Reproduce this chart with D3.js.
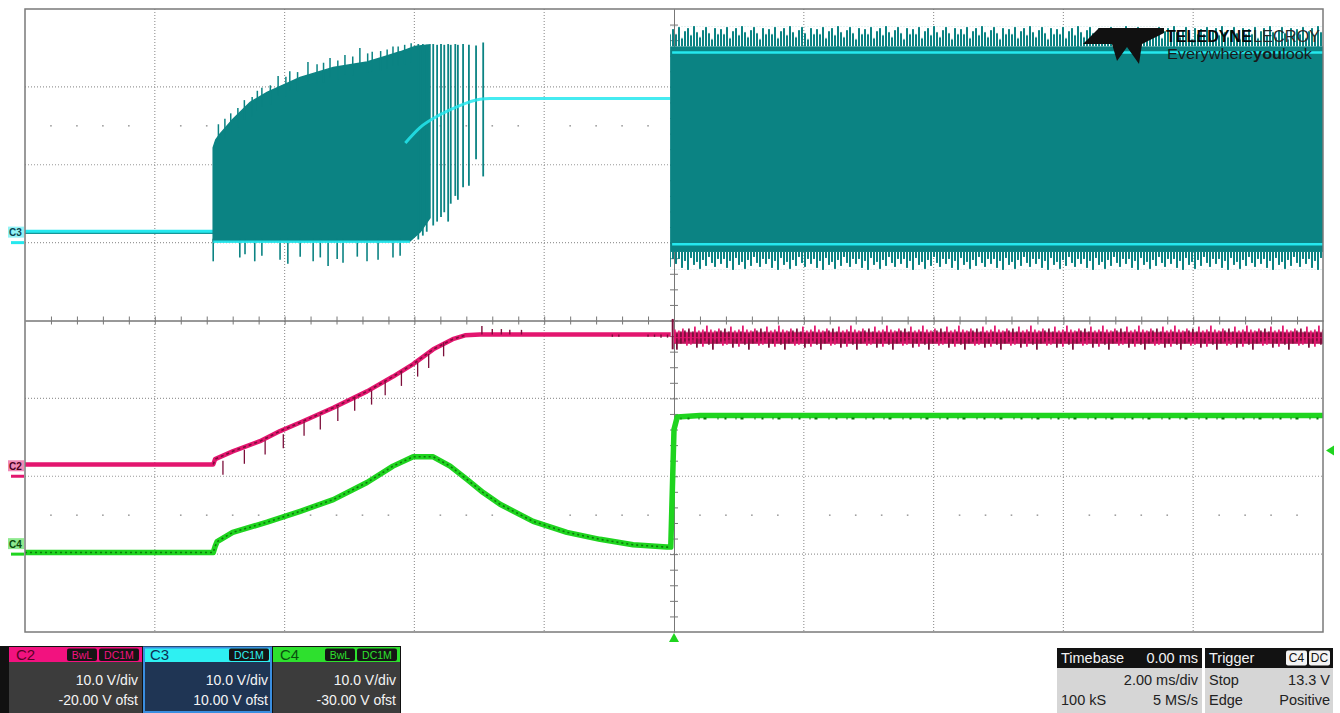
<!DOCTYPE html>
<html><head><meta charset="utf-8">
<script src="https://cdn.jsdelivr.net/npm/d3@7"></script>
<style>html,body{margin:0;padding:0;background:#fff;overflow:hidden}svg{display:block}</style>
</head><body>
<svg id="chart" width="1340" height="713"></svg>
<script>
// ---------------- DATA ----------------
const timeDomain = [-10, 10];            // ms (2.00 ms/div, 10 div)
const divDomain = [-4, 4];               // vertical divisions
const gridTimes = [-8, -6, -4, -2, 2, 4, 6, 8];
const gridDivs = [-3, -2, -1, 1, 2, 3];
const channelNames = ["C2", "C3", "C4"];
const voltsPerDiv = [10, 10, 10];
const offsets = [-20, 10, -30];          // V ofst
const triggerTime = 0;
const triggerLevel = 13.3;               // V on C4

// C2 (magenta)
const c2Time = [-10, -7.10, -7.07, -6.80, -6.38, -6.07, -5.76, -5.25, -4.73, -4.33, -4.02, -3.71, -3.41, -3.22, -2.99, -0.05];
const c2Volt = [1.5, 1.5, 2.2, 3.2, 4.5, 5.8, 6.9, 8.8, 10.9, 12.8, 14.4, 16.3, 17.6, 18.1, 18.2, 18.2];
const c2SpikeTime = [-2.96, -2.80, -2.66, -2.53, -2.35, -0.95, -0.85, -0.40, -0.30, -0.20, -0.10];
const c2SpikeVolt = [19.3, 18.9, 18.9, 18.8, 18.8, 17.9, 17.9, 17.9, 17.9, 17.8, 17.8];
const c2RampSpikeTime = [-6.95, -6.62, -6.30, -6.02, -5.70, -5.45, -5.18, -4.92, -4.66, -4.45, -4.20, -3.95, -3.78, -3.55];
const c2RampSpikeVolt = [1.6, 3.0, 4.2, 5.0, 6.6, 7.4, 8.5, 9.8, 10.6, 11.8, 13.0, 14.2, 15.3, 16.8];
const c2RunTime = [0, 10];
const c2RunLevel = 17.8;
const c2RunHigh = 19.6;
const c2RunLow = 16.0;

// C3 (teal / cyan)
const c3BaseTime = [-10, -7.10];
const c3BaseVolt = [1.4, 1.4];
const c3BurstTime = [-7.10, -7.06, -7.00, -6.80, -6.53, -6.27, -5.76, -5.25, -4.73, -4.45, -4.22, -3.99, -3.76];
const c3BurstTop = [12.2, 13.2, 13.9, 15.8, 18.0, 19.3, 21.2, 22.5, 23.2, 23.9, 24.5, 25.2, 25.4];
const c3BurstBottomTime = [-7.10, -4.07, -3.91, -3.76];
const c3BurstBottomVolt = [0.2, 0.2, 1.4, 3.2];
const c3DownSpikeTime = [-7.10, -6.69, -6.61, -6.46, -6.35, -6.07, -5.95, -5.76, -5.56, -5.45, -5.33, -5.19, -5.10, -4.88, -4.73, -4.56, -4.33, -4.22];
const c3DownSpikeVolt = [-2.4, -1.9, -1.5, -2.4, -1.7, -2.2, -2.7, -1.8, -2.4, -1.9, -3.0, -2.1, -2.6, -1.8, -2.4, -2.2, -1.9, -1.7];
const c3UpSpikeTime = [-7.02, -6.92, -6.83, -6.72, -6.62, -6.50, -6.42, -6.35, -6.22, -6.10, -5.98, -5.92, -5.80, -5.64, -5.50, -5.40, -5.30, -5.18, -5.07, -4.95, -4.84, -4.72, -4.65, -4.52, -4.42, -4.33, -4.25, -4.15, -4.05];
const c3UpSpikeVolt = [15.2, 15.9, 16.6, 17.3, 18.3, 18.7, 19.5, 19.9, 20.2, 21.4, 21.3, 22.0, 21.9, 23.2, 22.9, 23.1, 23.7, 23.4, 24.1, 23.9, 25.0, 24.3, 24.5, 24.6, 24.8, 25.2, 25.2, 25.4, 25.6];
const c3SparseTime = [-3.94, -3.87, -3.81, -3.71, -3.65, -3.59, -3.54, -3.48, -3.44, -3.37, -3.33, -3.25, -3.16, -3.05, -2.94];
const c3SparseTop = [25.5, 25.5, 25.4, 25.5, 25.4, 25.5, 25.4, 25.5, 25.4, 25.5, 25.4, 25.5, 25.4, 25.3, 25.7];
const c3SparseBottom = [0.4, 0.9, 1.4, 2.2, 2.7, 3.3, 3.9, 2.7, 5.0, 6.0, 5.5, 7.1, 7.3, 10.7, 8.5];
const c3LevelTime = [-4.14, -3.91, -3.61, -3.30, -2.99, -2.84, -0.06];
const c3LevelVolt = [12.8, 14.8, 16.4, 17.6, 18.4, 18.5, 18.5];
const c3LowTime = [-7.10, -4.07];
const c3LowVolt = [0.1, 0.1];
const c3RunTime = [-0.06, 10];
const c3RunSpikeTop = 27.8;
const c3RunTop = 25.2;
const c3RunHigh = 24.4;
const c3RunLow = -0.2;
const c3RunBottom = -1.2;
const c3RunSpikeBottom = -3.5;

// C4 (green)
const c4Time = [-10, -7.10, -7.07, -7.04, -6.80, -6.27, -5.76, -5.25, -4.73, -4.33, -4.02, -3.71, -3.45, -3.19, -2.94, -2.68, -2.17, -1.65, -1.14, -0.63, -0.11, -0.05, 0.00, 0.05, 0.40, 10];
const c4Volt = [0.2, 0.2, 1.0, 1.6, 2.8, 4.1, 5.5, 7.0, 9.2, 11.3, 12.5, 12.5, 11.3, 9.6, 7.9, 6.4, 4.2, 2.8, 1.9, 1.2, 0.9, 0.9, 16.0, 17.6, 17.8, 17.8];

// Info panels
const panelNames = ["C2", "C3", "C4"];
const panelVdiv = ["10.0 V/div", "10.0 V/div", "10.0 V/div"];
const panelOfst = ["-20.00 V ofst", "10.00 V ofst", "-30.00 V ofst"];
const panelTags = [["BwL", "DC1M"], ["DC1M"], ["BwL", "DC1M"]];
const timebaseLines = ["Timebase", "0.00 ms", "2.00 ms/div", "100 kS", "5 MS/s"];
const triggerLines = ["Trigger", "C4", "DC", "Stop", "13.3 V", "Edge", "Positive"];
const logoLines = ["TELEDYNE", "LECROY", "Everywhere", "you", "look"];

// ---------------- STYLE ----------------
const col = {
  c2: "#e3166f", c2dark: "#7c0e3a",
  teal: "#0b8383", cyan: "#25e8ee",
  c4: "#1fd41f", c4dark: "#0c7a0c",
  grid: "#999", frame: "#7a7a7a"
};
const FONT = "'Liberation Sans', Arial, sans-serif";

const svg = d3.select("#chart");
svg.append("rect").attr("width", 1340).attr("height", 713).attr("fill", "#fff");

const x = d3.scaleLinear().domain(timeDomain).range([25, 1323]);
const yDiv = d3.scaleLinear().domain(divDomain).range([632, 9]);
const yV = (ch, v) => yDiv((v + offsets[ch]) / voltsPerDiv[ch]);
const zip = (a, b) => a.map((d, i) => [d, b[i]]);
const lineFor = ch => d3.line().x(d => x(d[0])).y(d => yV(ch, d[1]));

const defs = svg.append("defs");
function comb(id, y0, h, w, step, lens, fromBottom, color) {
  const p = defs.append("pattern").attr("id", id).attr("patternUnits", "userSpaceOnUse")
    .attr("x", 0).attr("y", y0).attr("width", w).attr("height", h);
  lens.forEach((L, i) => {
    p.append("rect").attr("x", i * step).attr("width", step - 1)
      .attr("y", fromBottom ? h - L : 0).attr("height", L).attr("fill", color);
  });
}

// ---------------- GRID ----------------
const g = svg.append("g");
g.selectAll(".vg").data(gridTimes).join("line")
  .attr("x1", d => x(d)).attr("x2", d => x(d)).attr("y1", yDiv(4)).attr("y2", yDiv(-4))
  .attr("stroke", col.grid).attr("stroke-width", 1.2).attr("stroke-dasharray", "1,2");
g.selectAll(".hg").data(gridDivs).join("line")
  .attr("x1", x(-10)).attr("x2", x(10)).attr("y1", d => yDiv(d)).attr("y2", d => yDiv(d))
  .attr("stroke", col.grid).attr("stroke-width", 1.2).attr("stroke-dasharray", "1,2");
const dotTimes = d3.range(-24, 25).map(i => +(i * 0.4).toFixed(2)).filter(t => Math.abs(t % 2) > 1e-6 && Math.abs(t) < 10);
[2.5, -2.5].forEach(dv => {
  g.selectAll(null).data(dotTimes).join("rect")
    .attr("x", d => x(d) - 0.8).attr("y", yDiv(dv) - 0.8).attr("width", 1.6).attr("height", 1.6)
    .attr("fill", "#a0a0a0");
});
const tTicks = d3.range(-25, 26).map(i => i * 0.4).filter(t => Math.abs(t) < 10);
const dTicks = d3.range(-20, 21).map(i => i * 0.2).filter(d => Math.abs(d) < 4);
const axStyle = sel => { sel.selectAll("text").remove(); sel.selectAll("line").attr("stroke", "#777"); sel.select(".domain").attr("stroke", "#777"); };
g.append("g").attr("transform", `translate(0,${yDiv(0)})`)
  .call(d3.axisBottom(x).tickValues(tTicks).tickSize(4).tickSizeOuter(0).tickFormat("")).call(axStyle);
g.append("g").attr("transform", `translate(0,${yDiv(0)})`)
  .call(d3.axisTop(x).tickValues(tTicks).tickSize(4).tickSizeOuter(0).tickFormat("")).call(axStyle);
g.append("g").attr("transform", `translate(${x(0)},0)`)
  .call(d3.axisLeft(yDiv).tickValues(dTicks).tickSize(4).tickSizeOuter(0).tickFormat("")).call(axStyle);
g.append("g").attr("transform", `translate(${x(0)},0)`)
  .call(d3.axisRight(yDiv).tickValues(dTicks).tickSize(4).tickSizeOuter(0).tickFormat("")).call(axStyle);

// ---------------- C3 ----------------
const t3 = svg.append("g");
t3.append("path").attr("d", lineFor(1)(zip(c3BaseTime, c3BaseVolt)))
  .attr("fill", "none").attr("stroke", col.cyan).attr("stroke-width", 4);
t3.append("path").attr("d", lineFor(1)(zip(c3BaseTime, c3BaseVolt)))
  .attr("fill", "none").attr("stroke", col.teal).attr("stroke-width", 1).attr("transform", "translate(0,1.6)");
const burstPts = zip(c3BurstTime, c3BurstTop).concat(zip(c3BurstBottomTime, c3BurstBottomVolt).reverse());
t3.append("path").attr("d", lineFor(1)(burstPts) + "Z").attr("fill", col.teal).attr("stroke", col.teal).attr("stroke-width", 1.5);
t3.selectAll(null).data(zip(c3DownSpikeTime, c3DownSpikeVolt)).join("line")
  .attr("x1", d => x(d[0])).attr("x2", d => x(d[0])).attr("y1", yV(1, 0.5)).attr("y2", d => yV(1, d[1]))
  .attr("stroke", col.teal).attr("stroke-width", 1.6);
t3.selectAll(null).data(zip(c3UpSpikeTime, c3UpSpikeVolt)).join("line")
  .attr("x1", d => x(d[0])).attr("x2", d => x(d[0])).attr("y1", d => yV(1, d[1] - 2.5)).attr("y2", d => yV(1, d[1]))
  .attr("stroke", col.teal).attr("stroke-width", 1.5);
t3.selectAll(null).data(c3SparseTime.map((t, i) => [t, c3SparseTop[i], c3SparseBottom[i]])).join("line")
  .attr("x1", d => x(d[0])).attr("x2", d => x(d[0])).attr("y1", d => yV(1, d[1])).attr("y2", d => yV(1, d[2]))
  .attr("stroke", col.teal).attr("stroke-width", 1.8);
t3.append("path").attr("d", lineFor(1)(zip(c3LowTime, c3LowVolt)))
  .attr("fill", "none").attr("stroke", col.cyan).attr("stroke-width", 2.5).attr("opacity", 0.9);
t3.append("path").attr("d", d3.line().curve(d3.curveMonotoneX).x(d => x(d[0])).y(d => yV(1, d[1]))(zip(c3LevelTime, c3LevelVolt)))
  .attr("fill", "none").attr("stroke", col.cyan).attr("stroke-width", 3).attr("opacity", 0.85);
const rx0 = x(c3RunTime[0]), rx1 = x(c3RunTime[1]);
t3.append("rect").attr("x", rx0).attr("width", rx1 - rx0)
  .attr("y", yV(1, c3RunTop)).attr("height", yV(1, c3RunBottom) - yV(1, c3RunTop)).attr("fill", col.teal);
const topY0 = yV(1, c3RunSpikeTop), topH = yV(1, c3RunTop) - topY0;
comb("c3top", topY0, topH, 48, 3, [17, 12, 19, 8, 15, 18, 11, 20, 14, 9, 16, 19, 13, 7, 18, 12].map(v => v / 20 * topH), true, col.teal);
t3.append("rect").attr("x", rx0).attr("width", rx1 - rx0).attr("y", topY0).attr("height", topH + 0.5).attr("fill", "url(#c3top)");
const botY0 = yV(1, c3RunBottom), botH = yV(1, c3RunSpikeBottom) - botY0;
comb("c3bot", botY0, botH, 45, 3, [12, 7, 16, 9, 18, 6, 13, 10, 17, 8, 14, 5, 11, 15, 7].map(v => v / 18 * botH), false, col.teal);
t3.append("rect").attr("x", rx0).attr("width", rx1 - rx0).attr("y", botY0 - 0.5).attr("height", botH + 0.5).attr("fill", "url(#c3bot)");
t3.append("line").attr("x1", rx0 + 2).attr("x2", rx1).attr("y1", yV(1, c3RunHigh)).attr("y2", yV(1, c3RunHigh))
  .attr("stroke", col.cyan).attr("stroke-width", 2.5);
t3.append("line").attr("x1", rx0 + 2).attr("x2", rx1).attr("y1", yV(1, c3RunLow)).attr("y2", yV(1, c3RunLow))
  .attr("stroke", col.cyan).attr("stroke-width", 2.5);

// ---------------- C2 ----------------
const t2 = svg.append("g");
t2.append("path").attr("d", lineFor(0)(zip(c2Time, c2Volt)))
  .attr("fill", "none").attr("stroke", col.c2).attr("stroke-width", 4.5).attr("stroke-linejoin", "round");
t2.append("path").attr("d", lineFor(0)(zip(c2Time.slice(1), c2Volt.slice(1)).filter(d => d[0] < -3.2)))
  .attr("fill", "none").attr("stroke", col.c2dark).attr("stroke-width", 1.6).attr("stroke-dasharray", "3,3");
t2.selectAll(null).data(zip(c2RampSpikeTime, c2RampSpikeVolt)).join("line")
  .attr("x1", d => x(d[0])).attr("x2", d => x(d[0])).attr("y1", d => yV(0, d[1] - 1.4)).attr("y2", d => yV(0, d[1] + 0.4))
  .attr("stroke", col.c2dark).attr("stroke-width", 1.3);
t2.selectAll(null).data(zip(c2SpikeTime, c2SpikeVolt)).join("line")
  .attr("x1", d => x(d[0])).attr("x2", d => x(d[0])).attr("y1", yV(0, 18.2)).attr("y2", d => yV(0, d[1]))
  .attr("stroke", col.c2dark).attr("stroke-width", 1.4);
const c2y0 = yV(0, c2RunHigh), c2h = yV(0, c2RunLow) - c2y0;
const c2pat = defs.append("pattern").attr("id", "c2noise").attr("patternUnits", "userSpaceOnUse")
  .attr("x", 0).attr("y", c2y0).attr("width", 36).attr("height", c2h);
c2pat.append("rect").attr("x", 0).attr("width", 36).attr("y", c2h * 0.3).attr("height", c2h * 0.42).attr("fill", "#b8155a");
[[0, 7, 18], [2, 9, 22], [4, 5, 17], [6, 10, 21], [8, 8, 16], [10, 3, 19], [12, 9, 24], [14, 7, 15], [16, 10, 20],
 [18, 6, 23], [20, 8, 17], [22, 2, 18], [24, 9, 21], [26, 6, 19], [28, 10, 26], [30, 7, 16], [32, 8, 20], [34, 5, 18]]
  .forEach((m, i) => c2pat.append("rect").attr("x", m[0]).attr("width", 1.8)
    .attr("y", m[1] / 28 * c2h).attr("height", (m[2] - m[1]) / 28 * c2h)
    .attr("fill", i % 2 ? col.c2 : col.c2dark));
t2.append("rect").attr("x", x(c2RunTime[0])).attr("width", x(c2RunTime[1]) - x(c2RunTime[0]))
  .attr("y", c2y0).attr("height", c2h).attr("fill", "url(#c2noise)");
t2.append("line").attr("x1", x(0)).attr("x2", x(10)).attr("y1", yV(0, c2RunLevel)).attr("y2", yV(0, c2RunLevel))
  .attr("stroke", col.c2).attr("stroke-width", 1.2).attr("opacity", 0.8);
t2.append("line").attr("x1", x(-0.02)).attr("x2", x(-0.02)).attr("y1", yV(0, 20.2)).attr("y2", yV(0, 16.3))
  .attr("stroke", col.c2dark).attr("stroke-width", 2);

// ---------------- C4 ----------------
const t4 = svg.append("g");
t4.append("path").attr("d", lineFor(2)(zip(c4Time, c4Volt)))
  .attr("fill", "none").attr("stroke", col.c4).attr("stroke-width", 5.5).attr("stroke-linejoin", "round");
t4.append("path").attr("d", lineFor(2)(zip(c4Time, c4Volt).filter(d => d[0] <= -0.05)))
  .attr("fill", "none").attr("stroke", col.c4dark).attr("stroke-width", 1.6).attr("stroke-dasharray", "2,3");
t4.append("line").attr("x1", x(0.1)).attr("x2", x(10)).attr("y1", yV(2, c4Volt[c4Volt.length - 1]) + 3).attr("y2", yV(2, c4Volt[c4Volt.length - 1]) + 3)
  .attr("stroke", col.c4dark).attr("stroke-width", 2).attr("stroke-dasharray", "1,6,2,9,1,4,3,11");

// ---------------- ground markers & labels ----------------
const markCols = [col.c2, col.cyan, col.c4];
const labelText = ["#4a0020", "#0b4450", "#0a4a0a"];
channelNames.forEach((name, i) => {
  const gy = yV(i, 0);
  svg.append("line").attr("x1", 11).attr("x2", 24).attr("y1", gy).attr("y2", gy)
    .attr("stroke", markCols[i]).attr("stroke-width", 3);
  svg.append("rect").attr("x", 8).attr("y", gy - 16).attr("width", 16).attr("height", 11).attr("fill", markCols[i]).attr("opacity", 0.5);
  svg.append("text").attr("x", 9).attr("y", gy - 6.5).text(name)
    .attr("font-family", FONT).attr("font-size", 10).attr("font-weight", "bold").attr("fill", labelText[i]);
});

svg.append("rect").attr("x", 25).attr("y", 9).attr("width", 1298).attr("height", 623)
  .attr("fill", "none").attr("stroke", col.frame).attr("stroke-width", 1.5);

const trigY = yV(2, triggerLevel);
svg.append("path").attr("d", `M1326,${trigY} L1334,${trigY - 5} L1334,${trigY + 5} Z`).attr("fill", col.c4);
const trigX = x(triggerTime);
svg.append("path").attr("d", `M${trigX},633 L${trigX - 5},642 L${trigX + 5},642 Z`).attr("fill", col.c4);

// ---------------- logo ----------------
const lg = svg.append("g");
lg.append("path").attr("d", "M1083,44 L1099,28 L1164,28 L1164,33 L1142,44 L1139,64 L1127,47 L1117,61 L1112,44 Z").attr("fill", "#111");
lg.append("text").attr("x", 1166).attr("y", 42).text(logoLines[0])
  .attr("font-family", "'Liberation Sans Narrow', 'Liberation Sans', Arial, sans-serif").attr("font-weight", "bold")
  .attr("font-size", 17).attr("fill", "#0a0a0a").attr("textLength", 86).attr("lengthAdjust", "spacingAndGlyphs");
lg.append("text").attr("x", 1253).attr("y", 42).text(logoLines[1])
  .attr("font-family", "'Liberation Sans Narrow', 'Liberation Sans', Arial, sans-serif")
  .attr("font-size", 17).attr("fill", "#2a2a2a").attr("textLength", 67).attr("lengthAdjust", "spacingAndGlyphs");
const tl = lg.append("text").attr("x", 1167).attr("y", 59)
  .attr("font-family", "'Liberation Sans Narrow', 'Liberation Sans', Arial, sans-serif").attr("font-size", 15).attr("fill", "#1a1a1a")
  .attr("textLength", 145).attr("lengthAdjust", "spacingAndGlyphs");
tl.append("tspan").text(logoLines[2]);
tl.append("tspan").attr("font-weight", "bold").text(logoLines[3]);
tl.append("tspan").text(logoLines[4]);

// ---------------- info panels ----------------
const hdrCols = ["#f2127f", "#2ef0f2", "#2ee02e"];
const hdrText = ["#5a0025", "#0d2f55", "#0a5010"];
const bodyCols = ["#3c3c3c", "#1f3554", "#3c3c3c"];
const px = [9, 143, 273], pw = [133, 129, 127];
svg.append("rect").attr("x", 0).attr("y", 646).attr("width", 401).attr("height", 67).attr("fill", "#111");
panelNames.forEach((n, i) => {
  const gp = svg.append("g");
  gp.append("rect").attr("x", px[i]).attr("y", 647).attr("width", pw[i]).attr("height", 66).attr("fill", bodyCols[i]);
  gp.append("rect").attr("x", px[i]).attr("y", 647).attr("width", pw[i]).attr("height", 15).attr("fill", hdrCols[i]);
  if (i === 1) gp.append("rect").attr("x", px[i] + 1).attr("y", 647.5).attr("width", pw[i] - 2).attr("height", 64.5)
    .attr("fill", "none").attr("stroke", "#3a8ee0").attr("stroke-width", 2);
  gp.append("text").attr("x", px[i] + 7).attr("y", 660).text(n).attr("font-family", FONT).attr("font-size", 15).attr("fill", hdrText[i]);
  let right = px[i] + pw[i] - 3;
  panelTags[i].slice().reverse().forEach(tag => {
    const w = tag.length > 3 ? 40 : 30;
    gp.append("rect").attr("x", right - w).attr("y", 648.5).attr("width", w).attr("height", 12.5).attr("rx", 2).attr("fill", "#151515");
    gp.append("text").attr("x", right - w / 2).attr("y", 658.5).attr("text-anchor", "middle").text(tag)
      .attr("font-family", FONT).attr("font-size", 10.5).attr("fill", hdrCols[i]);
    right -= w + 2;
  });
  gp.append("text").attr("x", px[i] + pw[i] - 4).attr("y", 685).attr("text-anchor", "end").text(panelVdiv[i])
    .attr("font-family", FONT).attr("font-size", 14).attr("fill", "#f4f4f4");
  gp.append("text").attr("x", px[i] + pw[i] - 4).attr("y", 705).attr("text-anchor", "end").text(panelOfst[i])
    .attr("font-family", FONT).attr("font-size", 14).attr("fill", "#f4f4f4");
});

const tb = svg.append("g");
tb.append("rect").attr("x", 1057).attr("y", 648).attr("width", 145).attr("height", 65).attr("fill", "#d6d6d6");
tb.append("rect").attr("x", 1057).attr("y", 648).attr("width", 145).attr("height", 20).attr("fill", "#121212");
const tstyle = s => s.attr("font-family", FONT).attr("font-size", 14.5);
tb.append("text").attr("x", 1061).attr("y", 663).text(timebaseLines[0]).call(tstyle).attr("fill", "#f2f2f2");
tb.append("text").attr("x", 1198).attr("y", 663).attr("text-anchor", "end").text(timebaseLines[1]).call(tstyle).attr("fill", "#f2f2f2");
tb.append("text").attr("x", 1198).attr("y", 685).attr("text-anchor", "end").text(timebaseLines[2]).call(tstyle).attr("fill", "#222");
tb.append("text").attr("x", 1061).attr("y", 705).text(timebaseLines[3]).call(tstyle).attr("fill", "#222");
tb.append("text").attr("x", 1198).attr("y", 705).attr("text-anchor", "end").text(timebaseLines[4]).call(tstyle).attr("fill", "#222");
const tr = svg.append("g");
tr.append("rect").attr("x", 1205).attr("y", 648).attr("width", 128).attr("height", 65).attr("fill", "#d6d6d6");
tr.append("rect").attr("x", 1205).attr("y", 648).attr("width", 128).attr("height", 20).attr("fill", "#121212");
tr.append("text").attr("x", 1209).attr("y", 663).text(triggerLines[0]).call(tstyle).attr("fill", "#f2f2f2");
[[1286, triggerLines[1]], [1309, triggerLines[2]]].forEach(([bx, s]) => {
  tr.append("rect").attr("x", bx).attr("y", 650.5).attr("width", 21).attr("height", 15).attr("rx", 2).attr("fill", "#f4f4f4");
  tr.append("text").attr("x", bx + 10.5).attr("y", 662).attr("text-anchor", "middle").text(s)
    .attr("font-family", FONT).attr("font-size", 12).attr("fill", "#111");
});
tr.append("text").attr("x", 1209).attr("y", 685).text(triggerLines[3]).call(tstyle).attr("fill", "#222");
tr.append("text").attr("x", 1330).attr("y", 685).attr("text-anchor", "end").text(triggerLines[4]).call(tstyle).attr("fill", "#222");
tr.append("text").attr("x", 1209).attr("y", 705).text(triggerLines[5]).call(tstyle).attr("fill", "#222");
tr.append("text").attr("x", 1330).attr("y", 705).attr("text-anchor", "end").text(triggerLines[6]).call(tstyle).attr("fill", "#222");
</script></body></html>
